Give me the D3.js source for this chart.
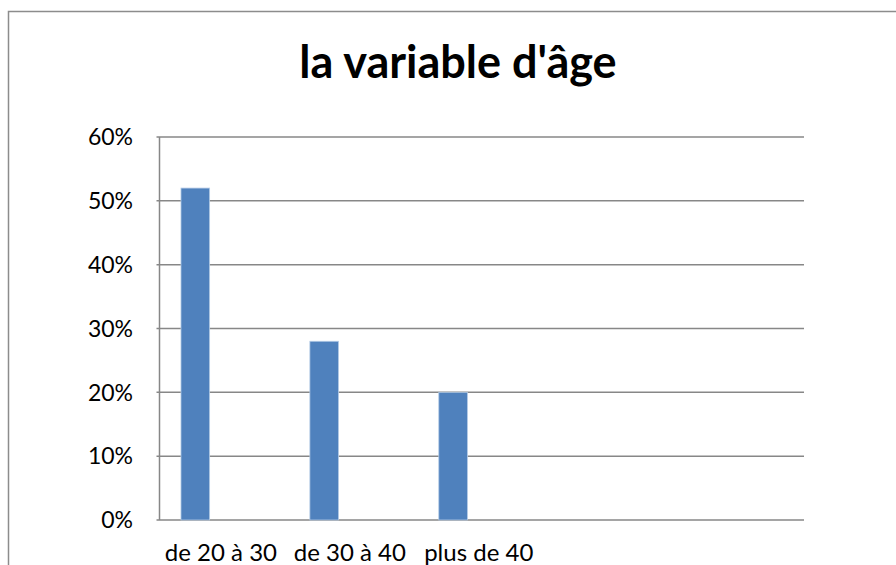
<!DOCTYPE html>
<html>
<head>
<meta charset="utf-8">
<script src="https://cdn.jsdelivr.net/npm/d3@7"></script>
<style>
  html, body { margin: 0; padding: 0; background: #fff; overflow: hidden; }
  text { font-family: Lato, "Open Sans", sans-serif; fill: #000; }
</style>
</head>
<body>
<svg id="chart" width="896" height="565"></svg>
<script>
// categories (the last two slots are empty in the original sheet)
const categories = ["de 20 à 30", "de 30 à 40", "plus de 40", "", ""];
// three series, only the first one holds values
const seriesNames = ["Série1", "Série2", "Série3"];
const serie1 = [0.52, 0.28, 0.20, null, null];
const serie2 = [null, null, null, null, null];
const serie3 = [null, null, null, null, null];
const yTicks = [0, 0.1, 0.2, 0.3, 0.4, 0.5, 0.6];
const chartTitle = "la variable d'âge";

const svg = d3.select("#chart");

// outer chart border (runs off the picture on the right and bottom)
svg.append("rect")
  .attr("x", 8.5).attr("y", 11.5)
  .attr("width", 920).attr("height", 600)
  .attr("fill", "none")
  .attr("stroke", "#8c8c8c")
  .attr("stroke-width", 1.5);

svg.append("text")
  .attr("x", 458).attr("y", 78)
  .attr("text-anchor", "middle")
  .style("font-size", "45px")
  .style("font-weight", "bold")
  .text(chartTitle);

const plotLeft = 159.5, plotRight = 804, plotTop = 137, plotBottom = 520;

const x = d3.scaleBand().domain(categories.map((d, i) => i)).range([plotLeft, plotRight]);
const xs = d3.scaleBand().domain(seriesNames).range([0, x.bandwidth()]).paddingOuter(0.75);
const y = d3.scaleLinear().domain([0, 0.6]).range([plotBottom, plotTop]);

// gridlines
svg.append("g")
  .selectAll("line")
  .data(yTicks)
  .enter()
  .append("line")
  .attr("x1", plotLeft - 3).attr("x2", plotRight)
  .attr("y1", (d) => y(d)).attr("y2", (d) => y(d))
  .attr("stroke", "#878787")
  .attr("stroke-width", 1.5);

// left axis line
svg.append("line")
  .attr("x1", plotLeft).attr("x2", plotLeft)
  .attr("y1", plotTop).attr("y2", plotBottom)
  .attr("stroke", "#878787")
  .attr("stroke-width", 1.5);

// y tick labels
svg.append("g")
  .selectAll("text")
  .data(yTicks)
  .enter()
  .append("text")
  .attr("x", 133)
  .attr("y", (d) => y(d))
  .attr("dy", "0.36em")
  .attr("text-anchor", "end")
  .style("font-size", "23px")
  .text((d) => d3.format(".0%")(d));

// bars
const allSeries = [serie1, serie2, serie3];
allSeries.forEach((vals, s) => {
  svg.append("g")
    .selectAll("rect")
    .data(vals.map((v, i) => ({ i: i, v: v })).filter((d) => d.v != null))
    .enter()
    .append("rect")
    .attr("x", (d) => x(d.i) + xs(seriesNames[s]))
    .attr("y", (d) => y(d.v))
    .attr("width", xs.bandwidth())
    .attr("height", (d) => plotBottom - y(d.v))
    .attr("fill", "#4f81bd")
    .attr("stroke", "#b4cbe6")
    .attr("stroke-width", 0.8);
});

// category labels
svg.append("g")
  .selectAll("text")
  .data(categories)
  .enter()
  .append("text")
  .attr("x", (d, i) => x(i) + x.bandwidth() / 2 - 3)
  .attr("y", 561)
  .attr("text-anchor", "middle")
  .style("font-size", "24px")
  .text((d) => d);
</script>
</body>
</html>
